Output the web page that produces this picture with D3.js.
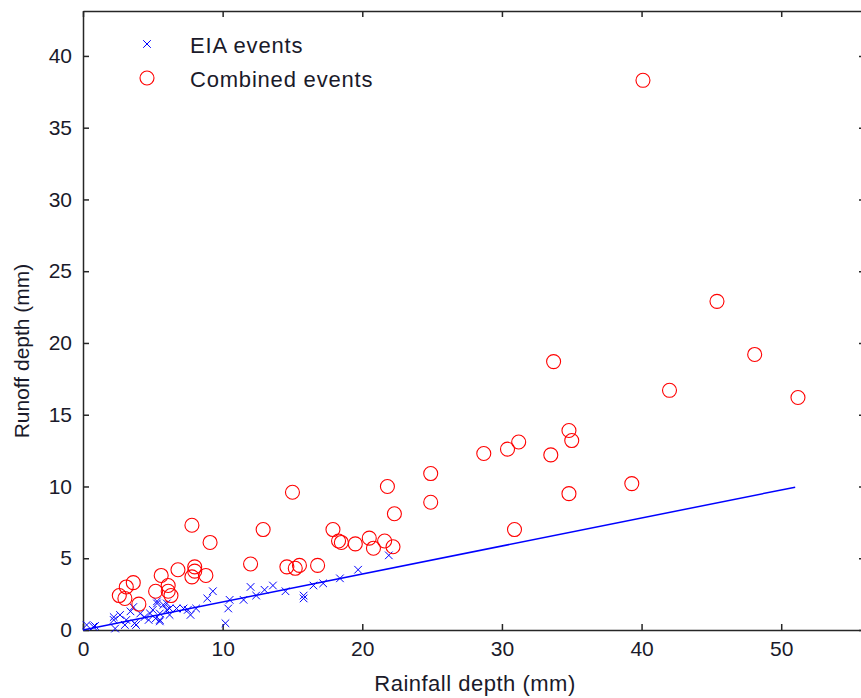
<!DOCTYPE html>
<html><head><meta charset="utf-8">
<script src="https://cdn.jsdelivr.net/npm/d3@7"></script>
<style>body{margin:0;background:#fff;}svg{display:block;}text{font-family:"Liberation Sans",Arial,sans-serif;}</style>
</head><body>
<script>
// EIA events (rainfall mm, runoff mm)
const eiaRain = [0.26,0.74,0.86,2.2,2.3,2.2,2.65,3.1,3.4,3.7,3.6,4.1,4.4,4.8,5.2,5.0,5.5,5.75,6.0,5.5,6.2,5.3,3.0,3.8,4.7,5.5,6.2,6.0,5.3,6.7,7.2,7.5,7.7,8.1,8.9,9.3,10.2,10.4,10.5,11.5,12.0,12.4,13.0,13.6,14.5,15.8,15.8,16.5,17.2,18.4,19.7,21.9];
const eiaRunoff = [0.35,0.23,0.28,0.7,0.1,0.9,1.05,0.7,1.3,0.47,1.6,1.15,0.9,1.15,0.8,1.4,1.15,1.75,1.4,0.7,1.5,2.0,0.35,0.35,0.7,0.6,1.05,1.85,1.85,1.5,1.5,1.4,1.05,1.5,2.2,2.7,0.47,1.5,2.1,2.1,3.0,2.4,2.8,3.1,2.7,2.2,2.4,3.1,3.25,3.6,4.2,5.2];
// Combined events
const combRain = [40.1,45.4,48.1,42.0,51.2,33.7,34.8,35.0,33.5,34.8,39.3,31.2,30.4,28.7,24.9,24.9,30.9,21.8,22.3,22.2,21.6,20.5,20.8,19.5,18.5,18.3,17.9,16.8,15.5,15.2,14.6,15.0,12.9,12.0,9.1,7.8,8.8,8.0,8.0,7.8,6.8,5.6,6.1,6.1,6.3,5.2,3.6,3.1,2.6,3.0,4.0];
const combRunoff = [38.3,22.9,19.2,16.7,16.2,18.7,13.9,13.2,12.2,9.5,10.2,13.1,12.6,12.3,10.9,8.9,7.0,10.0,8.1,5.8,6.2,6.4,5.7,6.0,6.1,6.2,7.0,4.5,4.5,4.3,4.4,9.6,7.0,4.6,6.1,7.3,3.8,4.1,4.4,3.7,4.2,3.8,3.1,2.7,2.4,2.7,3.3,3.0,2.4,2.2,1.8];
// Fitted line for EIA events
const fitRain = [0, 51];
const fitRunoff = [0, 9.95];
const xTicks = [0,10,20,30,40,50];
const yTicks = [0,5,10,15,20,25,30,35,40];
const legendLabels = ["EIA events","Combined events"];

(function(){
const W=861,H=698;
const mL=83, mT=11, mB=630, mR=865;
const svg=d3.select("body").append("svg").attr("width",W).attr("height",H);
const x=d3.scaleLinear().domain([0,56]).range([mL,mR]);
const y=d3.scaleLinear().domain([0,43.13]).range([mB,mT]);
const axisCol="#262626", txtCol="#1a1a2a";

svg.append("rect").attr("x",mL).attr("y",mT).attr("width",mR-mL).attr("height",mB-mT).attr("fill","#fff");

const fs="21px";
const gx=svg.append("g").attr("transform",`translate(0,${mB})`)
 .call(d3.axisBottom(x).tickValues(xTicks).tickSizeInner(-6).tickSizeOuter(0).tickPadding(11));
const gxt=svg.append("g").attr("transform",`translate(0,${mT})`)
 .call(d3.axisTop(x).tickValues(xTicks).tickSizeInner(-6).tickSizeOuter(0).tickFormat(""));
const gy=svg.append("g").attr("transform",`translate(${mL},0)`)
 .call(d3.axisLeft(y).tickValues(yTicks).tickSizeInner(-6).tickSizeOuter(0).tickPadding(11));
const gyr=svg.append("g").attr("transform",`translate(${mR},0)`)
 .call(d3.axisRight(y).tickValues(yTicks).tickSizeInner(-6).tickSizeOuter(0).tickFormat(""));
[gx,gxt,gy,gyr].forEach(g=>{
  g.selectAll("path").attr("stroke",axisCol).attr("stroke-width",1.5);
  g.selectAll("line").attr("stroke",axisCol).attr("stroke-width",1.5);
  g.selectAll("text").attr("fill",txtCol).style("font-size",fs).style("font-family","'Liberation Sans',Arial,sans-serif");
});

svg.append("path").datum(fitRain.map((r,i)=>[r,fitRunoff[i]]))
 .attr("d",d3.line().x(d=>x(d[0])).y(d=>y(d[1])))
 .attr("stroke","#0000ff").attr("stroke-width",1.5).attr("fill","none");

const xs=3.8;
function xMark(g,cx,cy){
  g.append("path").attr("d",`M${cx-xs},${cy-xs}L${cx+xs},${cy+xs}M${cx-xs},${cy+xs}L${cx+xs},${cy-xs}`)
   .attr("stroke","#0000ff").attr("stroke-width",1).attr("fill","none");
}
const ge=svg.append("g");
eiaRain.forEach((r,i)=>xMark(ge,x(r),y(eiaRunoff[i])));

svg.append("g").selectAll("circle").data(combRain.map((r,i)=>[r,combRunoff[i]])).join("circle")
 .attr("cx",d=>x(d[0])).attr("cy",d=>y(d[1])).attr("r",7)
 .attr("fill","none").attr("stroke","#ff0000").attr("stroke-width",1.1);

const lg=svg.append("g");
xMark(lg,147,44);
lg.append("circle").attr("cx",147).attr("cy",78).attr("r",7).attr("fill","none").attr("stroke","#ff0000").attr("stroke-width",1.1);
lg.selectAll("text").data(legendLabels).join("text")
 .attr("x",190).attr("y",(d,i)=>45+i*34).attr("dy","0.35em")
 .attr("fill",txtCol).style("font-size","22px").style("letter-spacing","0.8px").text(d=>d);

svg.append("text").attr("x",475).attr("y",683).attr("dy","0.35em").attr("text-anchor","middle")
 .attr("fill",txtCol).style("font-size","22px").style("letter-spacing","0.5px").text("Rainfall depth (mm)");
svg.append("text").attr("transform","translate(22,351) rotate(-90)").attr("dy","0.35em").attr("text-anchor","middle")
 .attr("fill",txtCol).style("font-size","21px").text("Runoff depth (mm)");
})();
</script>
</body></html>
